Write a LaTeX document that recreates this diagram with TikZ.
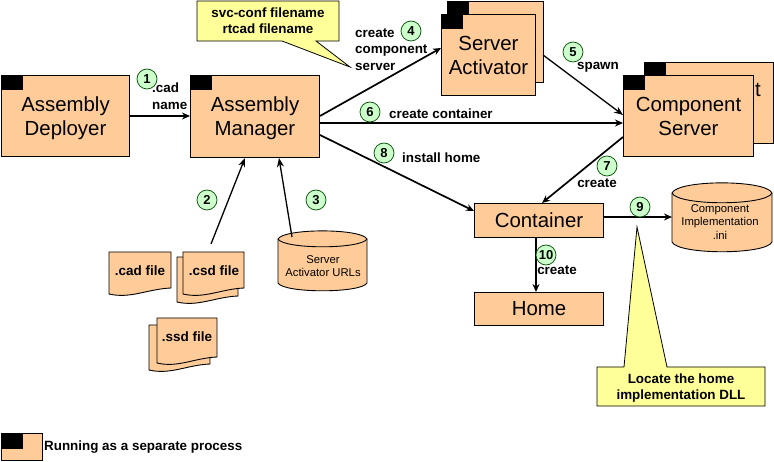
\documentclass[tikz,border=0pt]{standalone}
\usepackage{fontspec}
\setmainfont{Liberation Sans}
\usetikzlibrary{arrows.meta}
\definecolor{boxfill}{HTML}{FFCC99}
\definecolor{noteyellow}{HTML}{FFFF99}
\definecolor{badgegreen}{HTML}{CCFFCC}
\tikzset{
  box/.style={draw=black,fill=boxfill,line width=1pt,anchor=north west,inner sep=0pt,align=center,font=\fontsize{20.4}{24}\selectfont},
  tab/.style={fill=black,draw=black,line width=.5pt,anchor=north west,inner sep=0pt,minimum width=21pt,minimum height=14pt},
  shapeline/.style={draw=black,fill=boxfill,line width=.9pt},
  notebox/.style={draw=black,fill=noteyellow,line width=.8pt},
  conn/.style={draw=black,line width=1.7pt,-{Stealth[length=8pt,width=7pt]}},
  thinconn/.style={draw=black,line width=1.3pt,-{Stealth[length=9pt,width=7pt]}},
  badge/.style={circle,draw=black!70!green,fill=badgegreen,line width=.7pt,minimum size=20pt,inner sep=0pt,font=\bfseries\fontsize{13}{15}\selectfont},
  lab/.style={inner sep=0pt,font=\bfseries\fontsize{13.4}{16}\selectfont,align=center},
  lableft/.style={inner sep=0pt,font=\bfseries\fontsize{13.4}{16.5}\selectfont,align=left},
  small/.style={inner sep=0pt,font=\fontsize{11.3}{13.5}\selectfont,align=center},
  filelab/.style={inner sep=0pt,font=\bfseries\fontsize{13.5}{15}\selectfont}
}
\newcommand{\lift}[1]{\rule{0pt}{#1}}
\newcommand{\docpath}[4]{%
  \path[shapeline] (#1,#2) -- (#1+#3,#2) -- (#1+#3,#2+#4)
    .. controls (#1+0.62*#3,#2+#4+1) and (#1+0.35*#3,#2+#4+11) .. (#1,#2+#4+6) -- cycle;}
\newcommand{\cylpath}[5]{%
  \path[shapeline] (#1,#2+#5) .. controls (#1+6,#2-0.35*#5) and (#1+#3-6,#2-0.35*#5) .. (#1+#3,#2+#5)
     -- (#1+#3,#2+#5+#4) .. controls (#1+#3-6,#2+2.3*#5+#4) and (#1+6,#2+2.3*#5+#4) .. (#1,#2+#5+#4) -- cycle;
  \draw[black,line width=.9pt] (#1,#2+#5) .. controls (#1+6,#2+2.3*#5) and (#1+#3-6,#2+2.3*#5) .. (#1+#3,#2+#5);}
\begin{document}
\begin{tikzpicture}[x=1pt,y=-1pt]
\useasboundingbox (0,0) rectangle (774,462);
\fill[white] (0,0) rectangle (774,462);

% process boxes
\node[box,minimum width=128pt,minimum height=81pt] (ad) at (1,75) {\lift{19pt}Assembly\\Deployer};
\node[tab] (adtab) at (1,75) {};
\node[box,minimum width=129pt,minimum height=82pt] (am) at (190,75) {\lift{19pt}Assembly\\Manager};
\node[tab] (amtab) at (190,75) {};

\node[box,minimum width=96pt,minimum height=81pt] (saback) at (447,1) {};
\node[tab] (sabacktab) at (447,1) {};
\node[box,minimum width=94pt,minimum height=81pt] (sa) at (441,14) {\lift{16pt}Server\\Activator};
\node[tab] (satab) at (441,14) {};

\node[box,minimum width=129pt,minimum height=81pt] (csback) at (644,62) {};
\node[tab] (csbacktab) at (644,62) {};
\node[inner sep=0pt,font=\fontsize{20.4}{24}\selectfont] (csbackt) at (758,90) {t};
\node[box,minimum width=130pt,minimum height=81pt] (cs) at (623,75) {Component\\Server};
\node[tab] (cstab) at (623,75) {};

\node[box,minimum width=129pt,minimum height=34pt] (ct) at (474,203) {Container};
\node[box,minimum width=129pt,minimum height=33pt] (hm) at (474,292) {Home};

% documents
\docpath{109}{252}{62}{36}
\node[filelab] (cad) at (140,271) {.cad file};
\docpath{177}{257}{61}{39}
\docpath{183}{252}{61}{36}
\node[filelab] (csd) at (214,271) {.csd file};
\docpath{149}{325}{61}{39}
\docpath{157}{318}{60}{39}
\node[filelab] (ssd) at (187,337) {.ssd file};

% cylinders
\cylpath{278}{231}{89}{44}{8}
\node[small] (urls) at (323,266) {Server\\Activator URLs};
\cylpath{672}{183}{100}{49}{10}
\node[small] (impl) at (720,222) {Component\\Implementation\\.ini};

% anchors for connector ends on shapes without a node outline
\coordinate (csdtop) at (211,244);
\coordinate (urlstop) at (292,237);
\coordinate (impleft) at (672,217);
\coordinate (satip) at (543,55);

% connectors
\draw[conn] (ad.east |- 0,116) -- (am.west |- 0,116);
\draw[thinconn] (csdtop) -- (245,158);
\draw[thinconn] (urlstop) -- (279,158);
\draw[conn] (am.east |- 0,116) -- (sa.west |- 0,48);
\draw[thinconn] (satip) -- (cs.west |- 0,115);
\draw[conn] (am.east |- 0,123) -- (cs.west |- 0,123);
\draw[conn] (cs.west |- 0,137) -- (542,203);
\draw[conn] (am.east |- 0,135) -- (ct.west |- 0,211);
\draw[conn] (ct.east |- 0,217) -- (impleft);
\draw[conn] (536,237) -- (536,292);

% callouts
\path[notebox] (197,1) -- (339,1) -- (339,41) -- (316,41) -- (350,67) -- (282,41) -- (197,41) -- cycle;
\node[lab] (note1) at (268,21) {svc-conf filename\\rtcad filename};
\path[notebox] (597,367) -- (624,367) -- (637,227) -- (667,367) -- (765,367) -- (765,406) -- (597,406) -- cycle;
\node[lab] (note2) at (681,388) {Locate the home\\implementation DLL};

% badges
\node[badge] (b1) at (147,79) {1};
\node[badge] (b2) at (207,200) {2};
\node[badge] (b3) at (316,200) {3};
\node[badge] (b4) at (411,31) {4};
\node[badge] (b5) at (573,52) {5};
\node[badge] (b6) at (370,112) {6};
\node[badge] (b7) at (607,166) {7};
\node[badge] (b8) at (384,153) {8};
\node[badge] (b9) at (640,207) {9};
\node[badge] (b10) at (546,255) {10};

% labels
\node[lableft,anchor=west] (l1) at (152,96) {.cad\\name};
\node[lableft,anchor=west] (l4) at (355,49.5) {create\\component\\server};
\node[lab] (l5) at (598,67) {spawn};
\node[lab,anchor=west] (l6) at (389,114) {create container};
\node[lab] (l7) at (597,183) {create};
\node[lab,anchor=west] (l8) at (402,158) {install home};
\node[lab] (l10) at (557,270) {create};

% legend
\node[box,minimum width=41pt,minimum height=27pt] (lg) at (1,433) {};
\node[tab,minimum height=15pt] (lgtab) at (1,433) {};
\node[lab,anchor=west] (lgt) at (44,447) {Running as a separate process};
\end{tikzpicture}
\end{document}
